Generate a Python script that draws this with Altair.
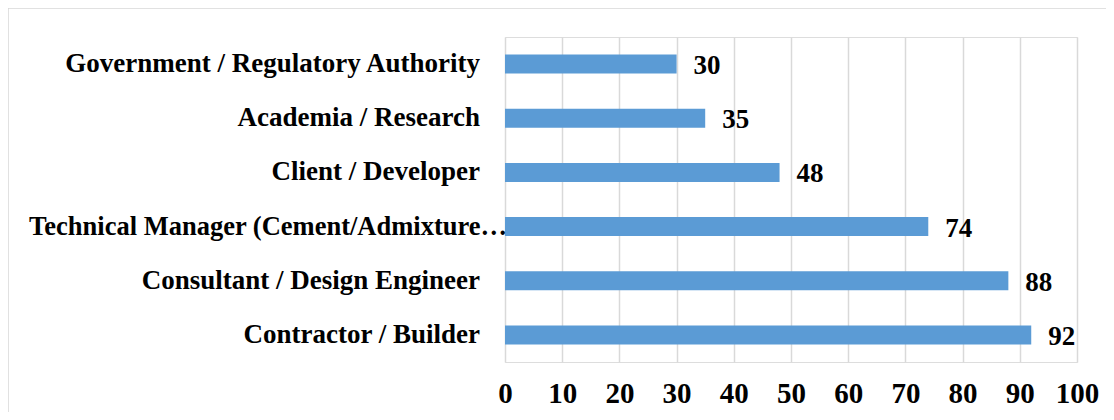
import altair as alt
import pandas as pd

categories = [
    "Government / Regulatory Authority",
    "Academia / Research",
    "Client / Developer",
    "Technical Manager (Cement/Admixture…",
    "Consultant / Design Engineer",
    "Contractor / Builder",
]
values = [30, 35, 48, 74, 88, 92]
long_label = "Technical Manager (Cement/Admixture…"

df = pd.DataFrame({"cat": categories, "val": values})

FONT = "Liberation Serif"
W, H = 572, 325

x = alt.X("val:Q", scale=alt.Scale(domain=[0, 100], nice=False),
          axis=alt.Axis(values=list(range(0, 101, 10)), grid=True, gridColor="#d9d9d9",
                        gridWidth=1.5, domain=False, ticks=False, labelFont=FONT,
                        labelFontSize=29, labelFontWeight="bold", labelColor="#000000",
                        labelPadding=17, labelFlush=False, labelOverlap=False, title=None))
y = alt.Y("cat:N", sort=categories,
          scale=alt.Scale(paddingInner=0.65, paddingOuter=0.325),
          axis=None)

bars = alt.Chart(df).mark_bar(color="#5B9BD5").encode(x=x, y=y)

vals = alt.Chart(df).mark_text(align="left", baseline="middle", dx=17, dy=2,
                               font=FONT, fontSize=27, fontWeight="bold",
                               color="#000000").encode(
    x="val:Q", y=alt.Y("cat:N", sort=categories), text="val:Q")

labels = alt.Chart(df).transform_filter(alt.datum.cat != long_label).mark_text(
    align="right", baseline="middle", font=FONT, fontSize=27, fontWeight="bold",
    color="#000000").encode(x=alt.value(-25), y=alt.Y("cat:N", sort=categories), text="cat:N")

labels_long = alt.Chart(df).transform_filter(alt.datum.cat == long_label).mark_text(
    align="right", baseline="middle", font=FONT, fontSize=26.5, fontWeight="bold",
    color="#000000").encode(x=alt.value(2), y=alt.Y("cat:N", sort=categories), text="cat:N")

border = alt.Chart(df).mark_rect(fill=None, stroke="#d9d9d9", strokeWidth=1.5).encode(
    x=alt.value(-497.5), x2=alt.value(W + 107), y=alt.value(-29.5), y2=alt.value(H + 100))

chart = alt.layer(border, bars, vals, labels, labels_long).properties(
    width=W, height=H,
    autosize=alt.AutoSizeParams(type="none"),
    padding={"left": 497, "top": 29, "right": 29, "bottom": 50},
).configure_view(stroke=None).configure(background="white")

chart.save("out.html", embed_options={"renderer": "svg", "actions": False})
